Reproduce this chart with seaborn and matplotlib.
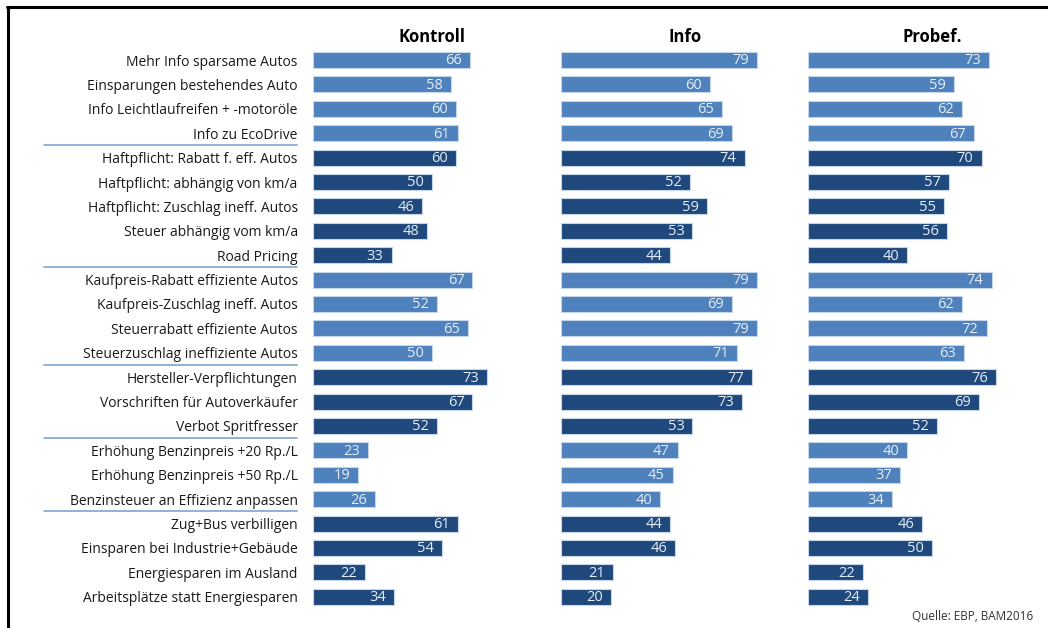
import matplotlib
matplotlib.use("Agg")
import matplotlib.pyplot as plt
import matplotlib.transforms as mtransforms
from matplotlib.lines import Line2D
import seaborn as sns
import pandas as pd

categories = [
    "Mehr Info sparsame Autos",
    "Einsparungen bestehendes Auto",
    "Info Leichtlaufreifen + -motoröle",
    "Info zu EcoDrive",
    "Haftpflicht: Rabatt f. eff. Autos",
    "Haftpflicht: abhängig von km/a",
    "Haftpflicht: Zuschlag ineff. Autos",
    "Steuer abhängig vom km/a",
    "Road Pricing",
    "Kaufpreis-Rabatt effiziente Autos",
    "Kaufpreis-Zuschlag ineff. Autos",
    "Steuerrabatt effiziente Autos",
    "Steuerzuschlag ineffiziente Autos",
    "Hersteller-Verpflichtungen",
    "Vorschriften für Autoverkäufer",
    "Verbot Spritfresser",
    "Erhöhung Benzinpreis +20 Rp./L",
    "Erhöhung Benzinpreis +50 Rp./L",
    "Benzinsteuer an Effizienz anpassen",
    "Zug+Bus verbilligen",
    "Einsparen bei Industrie+Gebäude",
    "Energiesparen im Ausland",
    "Arbeitsplätze statt Energiesparen",
]
kontroll = [66, 58, 60, 61, 60, 50, 46, 48, 33, 67, 52, 65, 50, 73, 67, 52, 23, 19, 26, 61, 54, 22, 34]
info = [79, 60, 65, 69, 74, 52, 59, 53, 44, 79, 69, 79, 71, 77, 73, 53, 47, 45, 40, 44, 46, 21, 20]
probef = [73, 59, 62, 67, 70, 57, 55, 56, 40, 74, 62, 72, 63, 76, 69, 52, 40, 37, 34, 46, 50, 22, 24]
group_type = (["hell"] * 4 + ["dunkel"] * 5 + ["hell"] * 4 + ["dunkel"] * 3
              + ["hell"] * 3 + ["dunkel"] * 4)
panel_titles = ["Kontroll", "Info", "Probef."]
separators_after = [3, 8, 12, 15, 18]
source_text = "Quelle: EBP, BAM2016"

palette = {"hell": "#4F81BD", "dunkel": "#1F497D"}

sns.set_theme(style="white")
plt.rcParams["font.family"] = ["Open Sans", "DejaVu Sans"]

W, H = 1048, 628
fig = plt.figure(figsize=(W / 100, H / 100), dpi=100)

n = len(categories)
row_step = 24.4
top_px = 60 - row_step / 2
height_px = row_step * n
bottom = 1 - (top_px + height_px) / H
height = height_px / H

panels = [(313, 238, kontroll), (561, 248, info), (808, 248, probef)]
axes = []
for k, (x0, w, vals) in enumerate(panels):
    ax = fig.add_axes([x0 / W, bottom, w / W, height])
    df = pd.DataFrame({"Kategorie": categories, "Wert": vals, "Typ": group_type})
    sns.barplot(data=df, x="Wert", y="Kategorie", hue="Typ", palette=palette,
                dodge=False, legend=False, width=0.66, ax=ax,
                edgecolor="#C5D5EA", linewidth=0.8, saturation=1)
    ax.set_xlim(0, 100)
    ax.set_ylim(n - 0.5, -0.5)
    ax.set_xlabel("")
    ax.set_ylabel("")
    ax.set_xticks([])
    for s in ax.spines.values():
        s.set_visible(False)
    for i, v in enumerate(vals):
        ax.annotate(str(v), xy=(v, i), xytext=(-8, -1), textcoords="offset pixels",
                    ha="right", va="center", color="#E4ECF5", fontsize=10.5)
    ax.set_title(panel_titles[k], fontsize=12, fontweight="bold", color="black", pad=4)
    if k == 0:
        ax.tick_params(axis="y", length=0, pad=11, labelsize=10, labelcolor="#1a1a1a")
    else:
        ax.set_yticks([])
    axes.append(ax)

# group separators
trans = mtransforms.blended_transform_factory(fig.transFigure, axes[0].transData)
for s in separators_after:
    fig.add_artist(Line2D([44 / W, 297 / W], [s + 0.5, s + 0.5], transform=trans,
                          color="#7FA3CF", linewidth=1.2))

# frame
fig.add_artist(Line2D([7.5 / W, 7.5 / W], [0, 1 - 6.5 / H], transform=fig.transFigure,
                      color="black", linewidth=2.2))
fig.add_artist(Line2D([6.5 / W, 1], [1 - 6.5 / H, 1 - 6.5 / H], transform=fig.transFigure,
                      color="black", linewidth=2.2))

fig.text(1033 / W, 1 - 617 / H, source_text, ha="right", va="center", fontsize=8.5,
         color="#333333")

fig.savefig("out.png", dpi=100)
